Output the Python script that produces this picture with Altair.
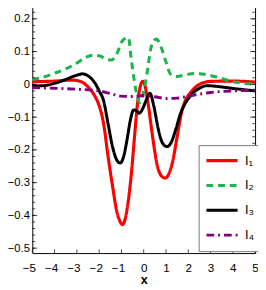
import altair as alt
import pandas as pd

# ---- data ----
series_names = ["l\u2081", "l\u2082", "l\u2083", "l\u2084"]

x1 = [-5, -4, -3.2, -2.8, -2.5, -2.2, -2.0, -1.8, -1.6, -1.4, -1.2, -1.05, -0.95, -0.85, -0.7,
      -0.55, -0.4, -0.28, -0.15, -0.05, 0.05, 0.2, 0.4, 0.6, 0.8, 0.97, 1.15, 1.3, 1.5, 1.7,
      1.9, 2.1, 2.5, 3.0, 4.0, 5.0]
y1 = [0.008, 0.01, 0.013, 0.008, -0.008, -0.035, -0.065, -0.12, -0.22, -0.31, -0.39, -0.42,
      -0.428, -0.415, -0.36, -0.27, -0.15, -0.06, -0.005, 0.009, -0.002, -0.06, -0.16, -0.245,
      -0.28, -0.286, -0.27, -0.235, -0.16, -0.085, -0.045, -0.025, 0.0, 0.009, 0.01, 0.007]

x2 = [-5, -4.5, -4, -3.5, -3.0, -2.6, -2.3, -2.0, -1.7, -1.45, -1.23, -0.94, -0.68, -0.58,
      -0.44, -0.3, -0.17, -0.05, 0.05, 0.14, 0.36, 0.57, 0.8, 1.0, 1.22, 1.5, 1.8, 2.3, 2.8,
      3.4, 4.0, 4.5, 5]
y2 = [0.015, 0.022, 0.034, 0.047, 0.065, 0.082, 0.089, 0.087, 0.078, 0.074, 0.09, 0.134,
      0.143, 0.089, 0.019, -0.035, -0.055, -0.035, -0.005, 0.03, 0.12, 0.138, 0.11, 0.068,
      0.03, 0.024, 0.028, 0.033, 0.03, 0.02, 0.008, 0.003, 0.0]

x3 = [-5, -4.5, -4, -3.5, -3.0, -2.75, -2.5, -2.2, -2.0, -1.8, -1.6, -1.4, -1.2, -1.05, -0.9,
      -0.75, -0.6, -0.45, -0.3, -0.2, -0.05, 0.1, 0.28, 0.45, 0.65, 0.85, 1.05, 1.25, 1.45,
      1.65, 1.85, 2.1, 2.5, 2.85, 3.5, 4.2, 5]
y3 = [-0.005, -0.004, 0.003, 0.015, 0.028, 0.032, 0.026, 0.005, -0.02, -0.05, -0.12, -0.19,
      -0.232, -0.24, -0.22, -0.17, -0.11, -0.078, -0.082, -0.088, -0.075, -0.05, -0.027,
      -0.065, -0.135, -0.18, -0.19, -0.175, -0.135, -0.09, -0.06, -0.035, -0.012, -0.004,
      -0.008, -0.014, -0.02]

x4 = [-5, -4, -3, -2, -1.5, -1, -0.5, 0, 0.5, 1, 1.5, 2, 2.5, 3, 4, 5]
y4 = [-0.01, -0.012, -0.015, -0.02, -0.028, -0.036, -0.037, -0.034, -0.038, -0.043, -0.042,
      -0.036, -0.03, -0.025, -0.02, -0.018]

x_ticks = [-5, -4, -3, -2, -1, 0, 1, 2, 3, 4, 5]
y_ticks = [-0.5, -0.4, -0.3, -0.2, -0.1, 0, 0.1, 0.2]
y_minor = [round(-0.5 + 0.02 * i, 2) for i in range(38)]

# ---- styles ----
colors = ["#ff0000", "#1db44e", "#000000", "#800080"]
dashes = [[1, 0], [7, 5], [1, 0], [8, 4, 2, 4]]
widths = [3.2, 3, 2, 2.5]

rows = []
for name, xs, ys in zip(series_names, [x1, x2, x3, x4], [y1, y2, y3, y4]):
    rows += [{"x": a, "y": b, "s": name} for a, b in zip(xs, ys)]
df = pd.DataFrame(rows)

W, H = 229, 257
FONT = "Liberation Sans"
xscale = alt.Scale(domain=[-5, 5], nice=False, zero=False)
yscale = alt.Scale(domain=[-0.515, 0.248], nice=False, zero=False)

xaxis = alt.Axis(values=x_ticks, title="x", ticks=False, tickSize=0, domain=False,
                 grid=False, labelPadding=10, labelFontSize=12, labelFont=FONT,
                 labelColor="black", titleFont=FONT, titleFontSize=13,
                 titleFontWeight="bold", titleColor="black", titlePadding=0,
                 labelFlush=False,
                 labelOffset={"condition": {"test": "datum.value < 0", "value": -3.5},
                              "value": 0})
yaxis = alt.Axis(values=y_ticks, format=".1~f", title=None, ticks=False, tickSize=0,
                 domain=False, grid=False, labelPadding=3, labelFontSize=11.5,
                 labelFont=FONT, labelColor="black", labelFlush=False)

lines = alt.Chart(df).mark_line(interpolate="monotone").encode(
    x=alt.X("x:Q", scale=xscale, axis=xaxis),
    y=alt.Y("y:Q", scale=yscale, axis=yaxis),
    color=alt.Color("s:O", scale=alt.Scale(domain=series_names, range=colors),
                    legend=alt.Legend(title=None, orient="none", legendX=171, legendY=146,
                                      symbolType="stroke", symbolSize=1024,
                                      labelFont=FONT, labelFontSize=14, labelColor="black",
                                      labelOffset=6, clipHeight=20, rowPadding=5.5,
                                      padding=6, fillColor="white", strokeColor="#7a7a7a")),
    strokeDash=alt.StrokeDash("s:O", scale=alt.Scale(domain=series_names, range=dashes)),
    strokeWidth=alt.StrokeWidth("s:O", scale=alt.Scale(domain=series_names, range=widths)),
    order=alt.Order("x:Q"),
)

ydf = pd.DataFrame({"v": y_ticks})
ymdf = pd.DataFrame({"v": y_minor})
xdf = pd.DataFrame({"v": x_ticks})

def ytick(data, xpos, size):
    return alt.Chart(data).mark_tick(orient="horizontal", size=size, thickness=1,
                                     color="black").encode(
        y=alt.Y("v:Q", scale=yscale, axis=yaxis), x=alt.value(xpos))

def xtick(data, ypos, size):
    return alt.Chart(data).mark_tick(orient="vertical", size=size, thickness=1,
                                     color="black").encode(
        x=alt.X("v:Q", scale=xscale, axis=xaxis), y=alt.value(ypos))

chart = alt.layer(
    lines,
    ytick(ydf, 2.5, 5), ytick(ydf, W - 2.5, 5),
    ytick(ymdf, 1.5, 3), ytick(ymdf, W - 1.5, 3),
    xtick(xdf, H - 2, 4), xtick(xdf, 2, 4),
).properties(
    width=W, height=H,
    autosize=alt.AutoSizeParams(type="none"),
    padding={"left": 25, "top": -9, "right": 3, "bottom": 34},
).configure_view(stroke="black", strokeWidth=1)

chart.save("out.html", embed_options={"renderer": "svg", "actions": False})
